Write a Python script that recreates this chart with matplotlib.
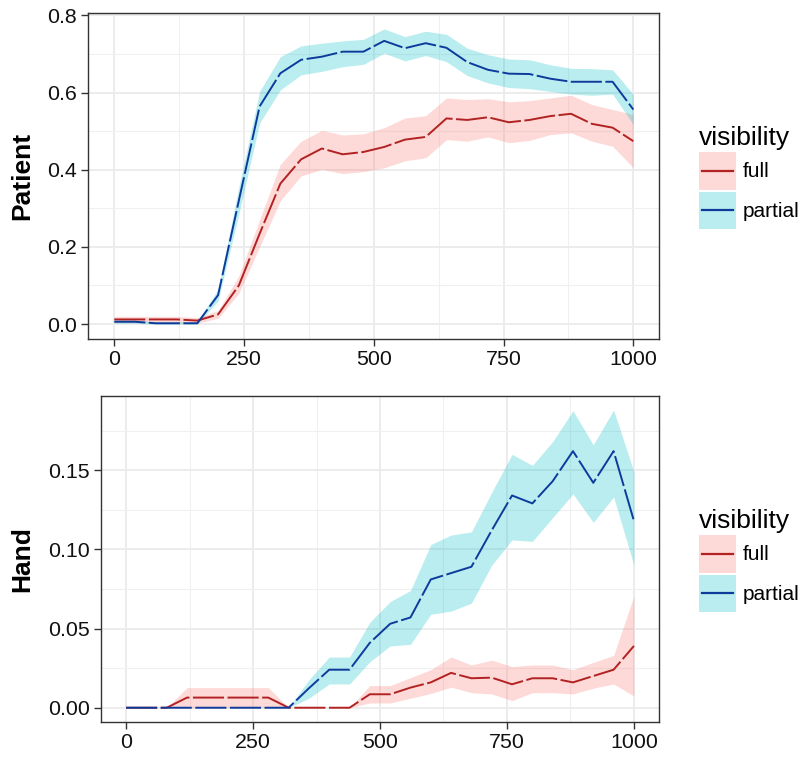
import matplotlib
matplotlib.use('Agg')
import matplotlib.pyplot as plt
from matplotlib.patches import Rectangle
from matplotlib.lines import Line2D
import numpy as np

plt.rcParams['font.family'] = ['Liberation Sans', 'DejaVu Sans']

# time points (ms)
time = [0, 40, 80, 120, 160, 200, 240, 280, 320, 360, 400, 440, 480,
        520, 560, 600, 640, 680, 720, 760, 800, 840, 880, 920, 960, 1000]

# Patient panel
patient_full = [0.012, 0.012, 0.012, 0.012, 0.009, 0.025, 0.100, 0.234, 0.364,
                0.427, 0.455, 0.440, 0.446, 0.459, 0.478, 0.485, 0.533, 0.529,
                0.536, 0.523, 0.529, 0.539, 0.545, 0.519, 0.509, 0.474]
patient_full_hi = [0.020, 0.020, 0.020, 0.020, 0.017, 0.035, 0.125, 0.270, 0.414,
                   0.474, 0.502, 0.490, 0.493, 0.509, 0.534, 0.540, 0.586, 0.582,
                   0.584, 0.576, 0.579, 0.586, 0.593, 0.569, 0.556, 0.543]
patient_full_lo = [0.004, 0.004, 0.004, 0.004, 0.002, 0.015, 0.080, 0.200, 0.320,
                   0.384, 0.401, 0.390, 0.395, 0.405, 0.423, 0.431, 0.478, 0.474,
                   0.485, 0.470, 0.476, 0.491, 0.496, 0.474, 0.461, 0.405]
patient_partial = [0.006, 0.006, 0.002, 0.002, 0.002, 0.075, 0.320, 0.564, 0.650,
                   0.685, 0.693, 0.706, 0.706, 0.734, 0.715, 0.728, 0.716, 0.679,
                   0.659, 0.649, 0.648, 0.636, 0.628, 0.628, 0.628, 0.556]
patient_partial_hi = [0.010, 0.010, 0.006, 0.006, 0.006, 0.090, 0.355, 0.603, 0.693,
                      0.721, 0.728, 0.734, 0.738, 0.765, 0.745, 0.759, 0.751, 0.715,
                      0.698, 0.687, 0.685, 0.672, 0.663, 0.662, 0.659, 0.595]
patient_partial_lo = [0.002, 0.002, 0.000, 0.000, 0.000, 0.060, 0.285, 0.521, 0.607,
                      0.646, 0.655, 0.667, 0.673, 0.702, 0.682, 0.696, 0.680, 0.644,
                      0.625, 0.613, 0.610, 0.603, 0.596, 0.593, 0.596, 0.517]

# Hand panel
hand_full = [0, 0, 0, 0.0064, 0.0064, 0.0064, 0.0064, 0.0064, 0, 0, 0, 0, 0.0085,
             0.0085, 0.0127, 0.016, 0.022, 0.0186, 0.019, 0.0148, 0.0186, 0.0186,
             0.016, 0.020, 0.024, 0.039]
hand_full_hi = [0, 0, 0, 0.0127, 0.0127, 0.0127, 0.0127, 0.0127, 0, 0, 0, 0, 0.014,
                0.014, 0.019, 0.024, 0.032, 0.027, 0.030, 0.026, 0.027, 0.027,
                0.024, 0.0286, 0.033, 0.0705]
hand_full_lo = [0, 0, 0, 0, 0, 0, 0, 0, 0, 0, 0, 0, 0.003, 0.003, 0.006, 0.009,
                0.013, 0.0095, 0.0087, 0.0045, 0.0095, 0.0095, 0.0087, 0.0123,
                0.015, 0.0074]
hand_partial = [0, 0, 0, 0, 0, 0, 0, 0, 0, 0.0123, 0.024, 0.024, 0.041, 0.053,
                0.057, 0.081, 0.085, 0.089, 0.112, 0.134, 0.129, 0.143, 0.162,
                0.142, 0.162, 0.118]
hand_partial_hi = [0, 0, 0, 0, 0, 0, 0, 0, 0, 0.0176, 0.032, 0.032, 0.054, 0.067,
                   0.074, 0.103, 0.109, 0.111, 0.136, 0.160, 0.153, 0.168, 0.1875,
                   0.166, 0.188, 0.149]
hand_partial_lo = [0, 0, 0, 0, 0, 0, 0, 0, 0, 0.006, 0.015, 0.015, 0.029, 0.039,
                   0.040, 0.059, 0.061, 0.066, 0.090, 0.106, 0.105, 0.120, 0.135,
                   0.117, 0.133, 0.090]

levels = ['full', 'partial']
line_colors = {'full': '#B22222', 'partial': '#0D3B9C'}
fill_colors = {'full': '#F8766D', 'partial': '#00BFC4'}
FILL_ALPHA = 0.27
DASH = (0, (16, 1.8))


class RibbonKey:
    """legend key: filled square with a line through its middle (like ggplot)"""
    def __init__(self, level):
        self.level = level

    def legend_artist(self, legend, orig_handle, fontsize, handlebox):
        x0, y0 = -handlebox.xdescent, -handlebox.ydescent
        w, h = handlebox.width, handlebox.height
        rect = Rectangle((x0, y0), w, h, facecolor=fill_colors[self.level],
                         alpha=FILL_ALPHA, edgecolor='none',
                         transform=handlebox.get_transform())
        line = Line2D([x0 + 0.08 * w, x0 + 0.92 * w], [y0 + h / 2, y0 + h / 2],
                      color=line_colors[self.level], linewidth=1.6,
                      transform=handlebox.get_transform())
        handlebox.add_artist(rect)
        handlebox.add_artist(line)
        return rect


fig = plt.figure(figsize=(8.02, 7.57), dpi=100)
W, H = 802.0, 757.0

panels = [
    dict(name='Patient', rect=(88.3, 12.7, 659.3, 339.3), ylim=(-0.0395, 0.807),
         yticks=[0, 0.2, 0.4, 0.6, 0.8], yminor=[0.1, 0.3, 0.5, 0.7],
         fmt='{:.1f}',
         series={'full': (patient_full, patient_full_lo, patient_full_hi),
                 'partial': (patient_partial, patient_partial_lo, patient_partial_hi)}),
    dict(name='Hand', rect=(100.7, 395.7, 659.3, 722.3), ylim=(-0.0092, 0.197),
         yticks=[0, 0.05, 0.10, 0.15], yminor=[0.025, 0.075, 0.125, 0.175],
         fmt='{:.2f}',
         series={'full': (hand_full, hand_full_lo, hand_full_hi),
                 'partial': (hand_partial, hand_partial_lo, hand_partial_hi)}),
]

for p in panels:
    x0, y0, x1, y1 = p['rect']
    ax = fig.add_axes([x0 / W, 1 - y1 / H, (x1 - x0) / W, (y1 - y0) / H])
    ax.set_xlim(-50, 1050)
    ax.set_ylim(*p['ylim'])

    # grid like theme_bw
    ax.set_xticks([0, 250, 500, 750, 1000])
    ax.set_xticks([125, 375, 625, 875], minor=True)
    ax.set_yticks(p['yticks'])
    ax.set_yticks(p['yminor'], minor=True)
    ax.set_yticklabels([p['fmt'].format(v) for v in p['yticks']])
    ax.grid(which='major', color='#EBEBEB', linewidth=1.3)
    ax.grid(which='minor', color='#F0F0F0', linewidth=0.8)
    ax.set_axisbelow(True)
    ax.tick_params(which='minor', length=0)
    ax.tick_params(which='major', length=5, width=1, color='#333333',
                   labelsize=15.4, labelcolor='#111111', pad=3)
    for s in ax.spines.values():
        s.set_color('#333333')
        s.set_linewidth(1.0)

    for lev in levels:
        y, lo, hi = p['series'][lev]
        ax.fill_between(time, lo, hi, color=fill_colors[lev], alpha=FILL_ALPHA,
                        linewidth=0)
    for lev in levels:
        y, lo, hi = p['series'][lev]
        ax.plot(time, y, color=line_colors[lev], linewidth=1.4, linestyle=DASH)

    cy = 1 - (y0 + y1) / 2 / H
    fig.text(22.7 / W, cy, p['name'], rotation=90, ha='center', va='center',
             fontsize=19, fontweight='bold')

    handles = [Line2D([], []) for lev in levels]
    fig.legend(handles, levels, title='visibility', loc='center left',
               bbox_to_anchor=(699 / W, cy - 0.002), frameon=False,
               fontsize=15, title_fontsize=19, handlelength=1.78,
               handleheight=2.36, labelspacing=0.1, handletextpad=0.3,
               borderpad=0, borderaxespad=0, alignment='left',
               handler_map={h: RibbonKey(lev) for h, lev in zip(handles, levels)})

fig.savefig('out.png', dpi=100)
